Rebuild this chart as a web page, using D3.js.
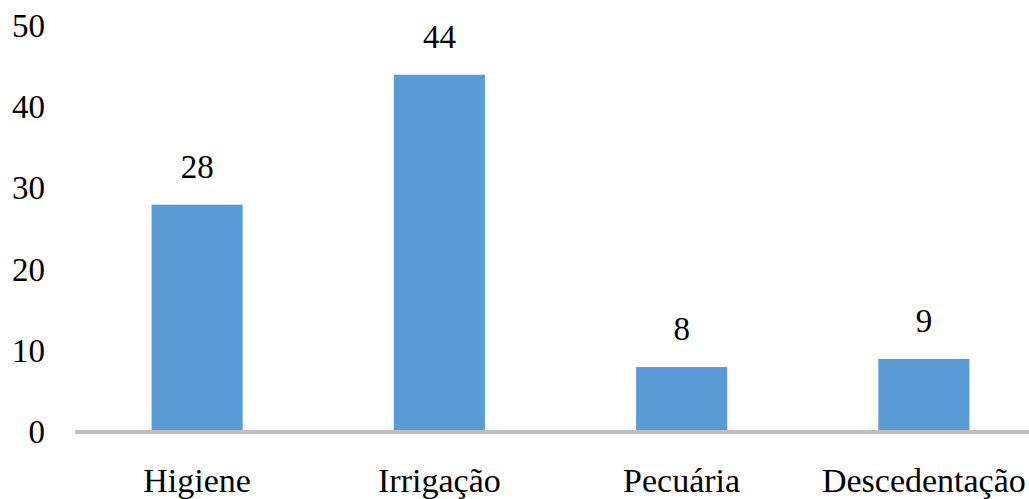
<!DOCTYPE html>
<html><head><meta charset="utf-8">
<script src="https://cdn.jsdelivr.net/npm/d3@7"></script>
<style>body{margin:0;background:#fff}</style>
</head><body>
<svg id="c" width="1029" height="499"></svg>
<script>
const categories = ["Higiene", "Irrigação", "Pecuária", "Descedentação"];
const values = [28, 44, 8, 9];
const yTicks = [0, 10, 20, 30, 40, 50];

const svg = d3.select("#c");
const x = d3.scaleBand().domain(categories).range([76, 1045]).paddingInner(0.624).paddingOuter(0.312);
const y = d3.scaleLinear().domain([0, 50]).range([432, 26]);

svg.selectAll("rect.bar").data(values).join("rect").attr("class", "bar")
  .attr("x", (d, i) => x(categories[i])).attr("width", x.bandwidth())
  .attr("y", d => y(d)).attr("height", d => y(0) - y(d))
  .attr("fill", "#5B9BD5");

svg.append("line").attr("x1", 75).attr("x2", 1029).attr("y1", y(0)).attr("y2", y(0))
  .attr("stroke", "#BFBFBF").attr("stroke-width", 4);

// texts without text-anchor; positions set from measured widths
function place(sel, anchorX, mode) {
  sel.each(function(d, i) {
    const w = this.getComputedTextLength();
    const ax = anchorX(d, i);
    d3.select(this).attr("x", mode === "end" ? ax - w : ax - w / 2);
  });
}

const ticks = svg.selectAll("text.tick").data(yTicks).join("text").attr("class", "tick")
  .attr("y", d => y(d) + 11)
  .style("font-family", `"Liberation Serif"`).style("font-size", "33px").text(d => d);
place(ticks, () => 45, "end");

const vals = svg.selectAll("text.val").data(values).join("text").attr("class", "val")
  .attr("y", d => y(d) - 27)
  .style("font-family", `"Liberation Serif"`).style("font-size", "33px").text(d => d);
place(vals, (d, i) => x(categories[i]) + x.bandwidth() / 2, "middle");

const cats = svg.selectAll("text.cat").data(categories).join("text").attr("class", "cat")
  .attr("y", 492)
  .style("font-family", `"Liberation Serif"`).style("font-size", "34px").text(d => d);
place(cats, d => x(d) + x.bandwidth() / 2, "middle");
</script>
</body></html>
